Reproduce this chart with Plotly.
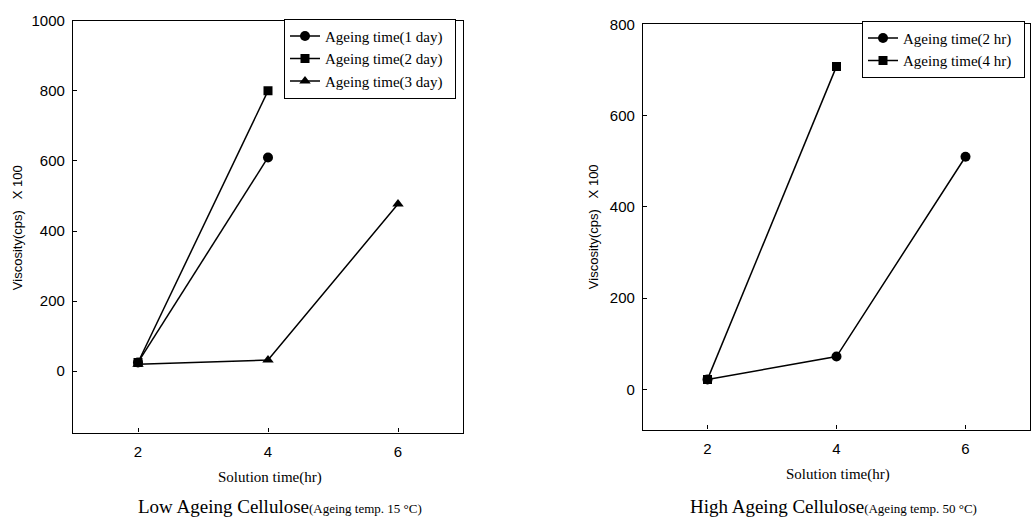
import plotly.graph_objects as go

W, H = 1032, 520

# ---- data ----
x_low_1 = [2, 4]
y_low_1 = [25, 610]
x_low_2 = [2, 4]
y_low_2 = [25, 800]
x_low_3 = [2, 4, 6]
y_low_3 = [20, 32, 477]
names_low = ["Ageing time(1 day)", "Ageing time(2 day)", "Ageing time(3 day)"]

x_high_1 = [2, 4, 6]
y_high_1 = [22, 72, 510]
x_high_2 = [2, 4]
y_high_2 = [22, 708]
names_high = ["Ageing time(2 hr)", "Ageing time(4 hr)"]

x_ticks = [2, 4, 6]
y_ticks_low = [0, 200, 400, 600, 800, 1000]
y_ticks_high = [0, 200, 400, 600, 800]


def px(x):
    return x / W


def py(y):
    return 1 - y / H


fig = go.Figure()
line = dict(color="black", width=1.5)
pad = "&nbsp;&nbsp;"

fig.add_trace(go.Scatter(x=x_low_1, y=y_low_1, name=names_low[0] + pad, mode="lines+markers",
                         line=line, marker=dict(symbol="circle", size=10, color="black"),
                         xaxis="x", yaxis="y", legend="legend"))
fig.add_trace(go.Scatter(x=x_low_2, y=y_low_2, name=names_low[1] + pad, mode="lines+markers",
                         line=line, marker=dict(symbol="square", size=9, color="black"),
                         xaxis="x", yaxis="y", legend="legend"))
fig.add_trace(go.Scatter(x=x_low_3, y=y_low_3, name=names_low[2] + pad, mode="lines+markers",
                         line=line, marker=dict(symbol="triangle-up", size=10, color="black"),
                         xaxis="x", yaxis="y", legend="legend"))

fig.add_trace(go.Scatter(x=x_high_1, y=y_high_1, name=names_high[0] + pad, mode="lines+markers",
                         line=line, marker=dict(symbol="circle", size=10, color="black"),
                         xaxis="x2", yaxis="y2", legend="legend2"))
fig.add_trace(go.Scatter(x=x_high_2, y=y_high_2, name=names_high[1] + pad, mode="lines+markers",
                         line=line, marker=dict(symbol="square", size=9, color="black"),
                         xaxis="x2", yaxis="y2", legend="legend2"))

tickfont = dict(family="Liberation Sans", size=15, color="black")
axis_common = dict(showline=True, linecolor="black", linewidth=1.2, mirror=True,
                   ticks="inside", ticklen=4, tickcolor="black", tickwidth=1,
                   showgrid=False, zeroline=False, tickfont=tickfont)

legend_font = dict(family="Liberation Serif", size=15, color="black")

fig.update_layout(
    width=W, height=H,
    margin=dict(l=0, r=0, t=0, b=0),
    paper_bgcolor="white", plot_bgcolor="white",
    xaxis=dict(domain=[px(73), px(463)], range=[1, 7], tickvals=x_ticks,
               anchor="y", ticklabelstandoff=5, **axis_common),
    yaxis=dict(domain=[py(431), py(12)], range=[-175, 1000], tickvals=y_ticks_low,
               anchor="x", ticklabelstandoff=4, **axis_common),
    xaxis2=dict(domain=[px(643), px(1030)], range=[1, 7], tickvals=x_ticks,
                anchor="y2", ticklabelstandoff=5, **axis_common),
    yaxis2=dict(domain=[py(428), py(15.7)], range=[-88, 800], tickvals=y_ticks_high,
                anchor="x2", ticklabelstandoff=4, **axis_common),
    legend=dict(x=px(456), y=py(10), xanchor="right", yanchor="top",
                bordercolor="black", borderwidth=1, bgcolor="white",
                font=legend_font, tracegroupgap=0, itemwidth=30),
    legend2=dict(x=px(1025), y=py(12), xanchor="right", yanchor="top",
                 bordercolor="black", borderwidth=1, bgcolor="white",
                 font=legend_font, tracegroupgap=0, itemwidth=30),
    showlegend=True,
)

ann = []
ytitle = "Viscosity(cps)&nbsp;&nbsp;&nbsp;X 100"
ann.append(dict(x=px(17), y=py(223), text=ytitle, textangle=-90, showarrow=False,
                xref="paper", yref="paper", xanchor="center", yanchor="middle",
                font=dict(family="Liberation Sans", size=13, color="black")))
ann.append(dict(x=px(593), y=py(222), text=ytitle, textangle=-90, showarrow=False,
                xref="paper", yref="paper", xanchor="center", yanchor="middle",
                font=dict(family="Liberation Sans", size=13, color="black")))
xtitle = "Solution time(hr)"
ann.append(dict(x=px(270), y=py(477), text=xtitle, showarrow=False,
                xref="paper", yref="paper", xanchor="center", yanchor="middle",
                font=dict(family="Liberation Serif", size=15, color="black")))
ann.append(dict(x=px(838), y=py(474), text=xtitle, showarrow=False,
                xref="paper", yref="paper", xanchor="center", yanchor="middle",
                font=dict(family="Liberation Serif", size=15, color="black")))
cap_low = "Low Ageing Cellulose<span style='font-size:13px'>(Ageing temp. 15 °C)</span>"
cap_high = "High Ageing Cellulose<span style='font-size:13px'>(Ageing temp. 50 °C)</span>"
ann.append(dict(x=px(280), y=py(506), text=cap_low, showarrow=False,
                xref="paper", yref="paper", xanchor="center", yanchor="middle",
                font=dict(family="Liberation Serif", size=19, color="black")))
ann.append(dict(x=px(833), y=py(506), text=cap_high, showarrow=False,
                xref="paper", yref="paper", xanchor="center", yanchor="middle",
                font=dict(family="Liberation Serif", size=19, color="black")))
fig.update_layout(annotations=ann)

fig.write_html("out.html")
